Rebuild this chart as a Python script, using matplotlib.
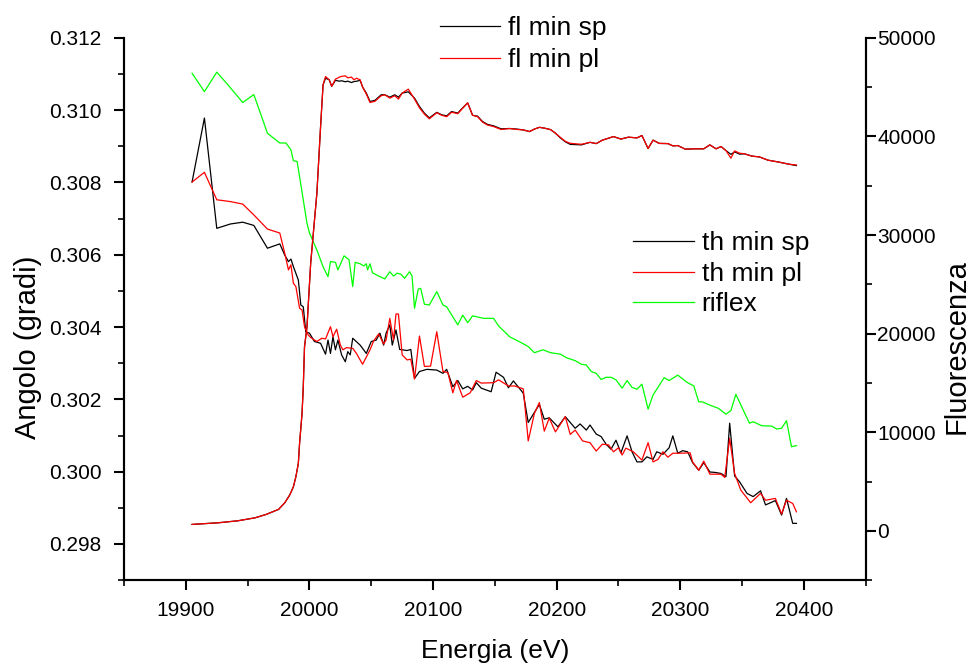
import matplotlib
matplotlib.use("Agg")
from matplotlib import pyplot as plt
from matplotlib.ticker import MultipleLocator

plt.rcParams['font.family'] = ['Liberation Sans', 'DejaVu Sans']

# angolo, th min sp (nero)
e_th_sp = [19905, 19915, 19925, 19936, 19946, 19955, 19966, 19976, 19980, 19983,
           19985, 19987, 19991, 19993, 19995, 19997, 20000, 20004, 20009, 20013,
           20015, 20017, 20019, 20021, 20023, 20026, 20029, 20031, 20033, 20035,
           20041, 20046, 20050, 20054, 20057, 20060, 20062, 20065, 20067, 20070,
           20073, 20079, 20082, 20085, 20089, 20095, 20103, 20108, 20111, 20116,
           20120, 20124, 20128, 20132, 20135, 20139, 20147, 20151, 20157, 20161,
           20165, 20173, 20177, 20186, 20190, 20194, 20201, 20207, 20215, 20219,
           20224, 20227, 20232, 20236, 20240, 20244, 20248, 20252, 20257, 20261,
           20265, 20269, 20273, 20278, 20281, 20286, 20291, 20294, 20298, 20302,
           20306, 20310, 20315, 20319, 20324, 20328, 20333, 20337, 20340, 20344,
           20348, 20354, 20359, 20365, 20369, 20377, 20382, 20386, 20391, 20394]
th_sp = [0.30801, 0.30978, 0.30673, 0.30685, 0.30690, 0.30681, 0.30618, 0.30630, 0.30599, 0.30581,
         0.30588, 0.30567, 0.30530, 0.30461, 0.30456, 0.30387, 0.30383, 0.30360, 0.30355, 0.30325,
         0.30364, 0.30327, 0.30373, 0.30337, 0.30364, 0.30323, 0.30304, 0.30332, 0.30323, 0.30369,
         0.30350, 0.30327, 0.30360, 0.30364, 0.30383, 0.30350, 0.30383, 0.30406, 0.30350, 0.30392,
         0.30338, 0.30335, 0.30338, 0.30258, 0.30277, 0.30283, 0.30281, 0.30272, 0.30283, 0.30235,
         0.30252, 0.30229, 0.30236, 0.30226, 0.30246, 0.30231, 0.30221, 0.30275, 0.30261, 0.30232,
         0.30251, 0.30217, 0.30136, 0.30186, 0.30145, 0.30149, 0.30124, 0.30152, 0.30120, 0.30132,
         0.30115, 0.30129, 0.30104, 0.30097, 0.30076, 0.30062, 0.30087, 0.30052, 0.30099, 0.30055,
         0.30027, 0.30027, 0.30041, 0.30034, 0.30055, 0.30048, 0.30066, 0.30099, 0.30051, 0.30058,
         0.30055, 0.30025, 0.30004, 0.30025, 0.29999, 0.29998, 0.29995, 0.29986, 0.30134, 0.29988,
         0.29972, 0.29940, 0.29931, 0.29947, 0.29908, 0.29920, 0.29880, 0.29926, 0.29857, 0.29857]

# angolo, th min pl (rosso)
e_th_pl = [19905, 19915, 19925, 19936, 19946, 19955, 19966, 19976, 19980, 19983,
           19985, 19987, 19989, 19992, 19994, 19996, 19999, 20001, 20006, 20010,
           20013, 20017, 20019, 20022, 20025, 20027, 20030, 20035, 20038, 20043,
           20049, 20052, 20056, 20060, 20062, 20065, 20068, 20070, 20072, 20075,
           20079, 20082, 20085, 20089, 20093, 20098, 20103, 20108, 20112, 20116,
           20119, 20124, 20130, 20135, 20139, 20149, 20153, 20161, 20166, 20173,
           20177, 20182, 20186, 20190, 20194, 20199, 20207, 20211, 20215, 20221,
           20227, 20232, 20237, 20242, 20246, 20250, 20253, 20256, 20262, 20269,
           20274, 20278, 20282, 20286, 20290, 20294, 20300, 20308, 20310, 20315,
           20319, 20324, 20329, 20333, 20336, 20340, 20344, 20349, 20357, 20365,
           20369, 20377, 20382, 20386, 20391, 20394]
th_pl = [0.30801, 0.30828, 0.30752, 0.30747, 0.30740, 0.30710, 0.30671, 0.30660, 0.30604, 0.30558,
         0.30572, 0.30521, 0.30512, 0.30452, 0.30447, 0.30401, 0.30378, 0.30371, 0.30360, 0.30369,
         0.30367, 0.30401, 0.30373, 0.30394, 0.30350, 0.30337, 0.30343, 0.30341, 0.30327, 0.30297,
         0.30337, 0.30362, 0.30381, 0.30353, 0.30364, 0.30424, 0.30364, 0.30436, 0.30436, 0.30323,
         0.30309, 0.30311, 0.30256, 0.30375, 0.30291, 0.30292, 0.30387, 0.30277, 0.30274, 0.30218,
         0.30252, 0.30206, 0.30218, 0.30252, 0.30245, 0.30246, 0.30254, 0.30237, 0.30237, 0.30229,
         0.30085, 0.30161, 0.30191, 0.30112, 0.30148, 0.30110, 0.30152, 0.30103, 0.30115, 0.30085,
         0.30080, 0.30057, 0.30076, 0.30074, 0.30055, 0.30066, 0.30046, 0.30065, 0.30055, 0.30032,
         0.30080, 0.30027, 0.30034, 0.30055, 0.30040, 0.30051, 0.30051, 0.30052, 0.30027, 0.30004,
         0.30029, 0.29993, 0.29993, 0.29993, 0.29984, 0.30092, 0.29995, 0.29949, 0.29914, 0.29940,
         0.29921, 0.29926, 0.29883, 0.29921, 0.29912, 0.29889]

# angolo, riflex (verde)
e_riflex = [19905, 19915, 19925, 19934, 19946, 19955, 19966, 19976, 19981, 19985,
            19987, 19990, 19992, 19998, 20000, 20006, 20011, 20015, 20017, 20021,
            20023, 20028, 20032, 20035, 20037, 20041, 20044, 20046, 20047, 20049,
            20051, 20056, 20061, 20065, 20068, 20071, 20074, 20077, 20081, 20083,
            20085, 20088, 20090, 20093, 20097, 20103, 20108, 20111, 20120, 20124,
            20128, 20132, 20141, 20149, 20153, 20162, 20169, 20177, 20182, 20189,
            20195, 20203, 20208, 20215, 20220, 20224, 20228, 20232, 20236, 20240,
            20244, 20248, 20253, 20257, 20261, 20265, 20269, 20274, 20278, 20287,
            20291, 20298, 20306, 20311, 20315, 20318, 20324, 20331, 20337, 20341,
            20345, 20356, 20359, 20366, 20374, 20378, 20382, 20386, 20390, 20394]
riflex = [0.31102, 0.31051, 0.31105, 0.31070, 0.31021, 0.31043, 0.30936, 0.30909, 0.30909, 0.30890,
          0.30860, 0.30858, 0.30816, 0.30687, 0.30660, 0.30613, 0.30567, 0.30539, 0.30581, 0.30579,
          0.30558, 0.30597, 0.30586, 0.30512, 0.30579, 0.30575, 0.30569, 0.30575, 0.30558, 0.30575,
          0.30550, 0.30541, 0.30533, 0.30553, 0.30541, 0.30549, 0.30546, 0.30535, 0.30553, 0.30541,
          0.30452, 0.30505, 0.30507, 0.30463, 0.30461, 0.30498, 0.30461, 0.30456, 0.30406, 0.30433,
          0.30412, 0.30431, 0.30424, 0.30424, 0.30403, 0.30373, 0.30361, 0.30346, 0.30329, 0.30337,
          0.30329, 0.30325, 0.30315, 0.30307, 0.30297, 0.30295, 0.30277, 0.30272, 0.30255, 0.30261,
          0.30261, 0.30254, 0.30231, 0.30252, 0.30233, 0.30228, 0.30242, 0.30173, 0.30212, 0.30260,
          0.30252, 0.30267, 0.30246, 0.30237, 0.30193, 0.30193, 0.30184, 0.30175, 0.30159, 0.30169,
          0.30214, 0.30134, 0.30138, 0.30127, 0.30126, 0.30118, 0.30120, 0.30141, 0.30069, 0.30072]

# fluorescenza
e_fl = [19905, 19926, 19942, 19956, 19965, 19975, 19980, 19984, 19987, 19989,
        19991, 19992, 19994, 19995, 19996, 19998, 20001, 20006, 20009, 20011,
        20013, 20016, 20018, 20021, 20024, 20026, 20029, 20031, 20034, 20036,
        20038, 20041, 20043, 20046, 20049, 20053, 20058, 20061, 20065, 20069,
        20072, 20075, 20080, 20085, 20089, 20093, 20097, 20103, 20107, 20111,
        20115, 20120, 20123, 20128, 20132, 20136, 20140, 20144, 20149, 20155,
        20162, 20168, 20173, 20178, 20182, 20186, 20190, 20195, 20199, 20203,
        20207, 20211, 20220, 20227, 20232, 20237, 20246, 20252, 20258, 20265,
        20269, 20274, 20278, 20283, 20290, 20294, 20298, 20304, 20312, 20319,
        20324, 20329, 20333, 20337, 20341, 20344, 20348, 20352, 20358, 20364,
        20371, 20380, 20388, 20394]
fl_sp = [650, 813, 1016, 1320, 1665, 2173, 2842, 3624, 4466, 5481,
         6840, 8870, 11914, 14614, 18673, 20700, 27170, 34240, 41000, 45230,
         45900, 45740, 45080, 45690, 45600, 45640, 45540, 45600, 45460, 45560,
         45590, 45690, 45000, 44390, 43540, 43660, 44220, 44220, 43980, 44220,
         43980, 44390, 44520, 43880, 43030, 42360, 41880, 42440, 42190, 42080,
         42520, 42360, 42770, 43400, 42140, 42050, 41510, 41220, 41070, 40770,
         40800, 40740, 40660, 40490, 40740, 40920, 40840, 40690, 40330, 39850,
         39450, 39190, 39140, 39400, 39270, 39620, 39980, 39730, 39920, 39850,
         40090, 38770, 39620, 39290, 39270, 39040, 39070, 38710, 38740, 38740,
         39140, 38740, 38970, 38560, 38180, 38430, 38200, 38230, 38000, 37920,
         37590, 37390, 37180, 37040]
fl_pl = [650, 813, 1016, 1320, 1665, 2173, 2842, 3624, 4466, 5481,
         6840, 8870, 11914, 14614, 18673, 20700, 27170, 34240, 41000, 45230,
         46070, 45740, 45080, 45800, 46000, 46090, 46140, 45940, 46010, 45740,
         45900, 45740, 45000, 44290, 43440, 43560, 44120, 44220, 43880, 44120,
         43780, 44390, 44790, 43780, 42900, 42260, 41780, 42400, 42140, 42000,
         42450, 42300, 42720, 43400, 42140, 42000, 41450, 41150, 41000, 40700,
         40800, 40700, 40660, 40490, 40740, 40920, 40840, 40690, 40330, 39900,
         39500, 39300, 39200, 39400, 39270, 39620, 39980, 39730, 39920, 39850,
         40090, 38770, 39620, 39290, 39270, 39040, 39070, 38710, 38740, 38740,
         39140, 38740, 38970, 38560, 37790, 38530, 38300, 38230, 38000, 37920,
         37590, 37390, 37180, 37100]

verde = "#00ff00"

fig = plt.figure(figsize=(9.77, 6.63), dpi=100)
ax = fig.add_axes([0.127, 0.125, 0.759, 0.818])
ax2 = ax.twinx()

l1, = ax.plot(e_th_sp, th_sp, color="black", lw=0.9)
l2, = ax.plot(e_th_pl, th_pl, color="red", lw=0.9)
l3, = ax.plot(e_riflex, riflex, color=verde, lw=0.9)
f1, = ax2.plot(e_fl, fl_sp, color="black", lw=0.9)
f2, = ax2.plot(e_fl, fl_pl, color="red", lw=0.9)

ax.set_xlim(19850, 20450)
ax.set_ylim(0.297, 0.312)
ax2.set_ylim(-5000, 50000)

ax.xaxis.set_major_locator(MultipleLocator(100))
ax.xaxis.set_minor_locator(MultipleLocator(50))
ax.yaxis.set_major_locator(MultipleLocator(0.002))
ax.yaxis.set_minor_locator(MultipleLocator(0.001))
ax.yaxis.set_major_formatter(plt.FuncFormatter(lambda v, p: "%.3f" % v))
ax2.yaxis.set_major_locator(MultipleLocator(10000))
ax2.yaxis.set_minor_locator(MultipleLocator(5000))

for a in (ax, ax2):
    a.spines["top"].set_visible(False)
    for s in ("left", "right", "bottom"):
        a.spines[s].set_linewidth(1.5)
    a.tick_params(which="major", direction="out", length=7, width=1.5, labelsize=15)
    a.tick_params(which="minor", direction="out", length=4, width=1.2)
ax.tick_params(axis="x", pad=8)
ax.tick_params(axis="y", pad=9)
ax2.tick_params(axis="y", pad=1.5)

ax.set_xlabel("Energia (eV)", fontsize=19, labelpad=14)
ax.set_ylabel("Angolo (gradi)", fontsize=21)
ax2.set_ylabel("Fluorescenza", fontsize=21)
ax.yaxis.set_label_coords(-0.111, 0.43)
ax2.yaxis.set_label_coords(1.104, 0.43)

fig.legend([f1, f2], ["fl min sp", "fl min pl"], loc="center left",
           bbox_to_anchor=(0.450, 0.933), frameon=False, fontsize=19,
           borderpad=0, borderaxespad=0, handlelength=2.3,
           handletextpad=0.3, labelspacing=0.3)
fig.legend([l1, l2, l3], ["th min sp", "th min pl", "riflex"], loc="center left",
           bbox_to_anchor=(0.648, 0.587), frameon=False, fontsize=19,
           borderpad=0, borderaxespad=0, handlelength=2.3,
           handletextpad=0.3, labelspacing=0.25)

fig.savefig("out.png", dpi=100)
